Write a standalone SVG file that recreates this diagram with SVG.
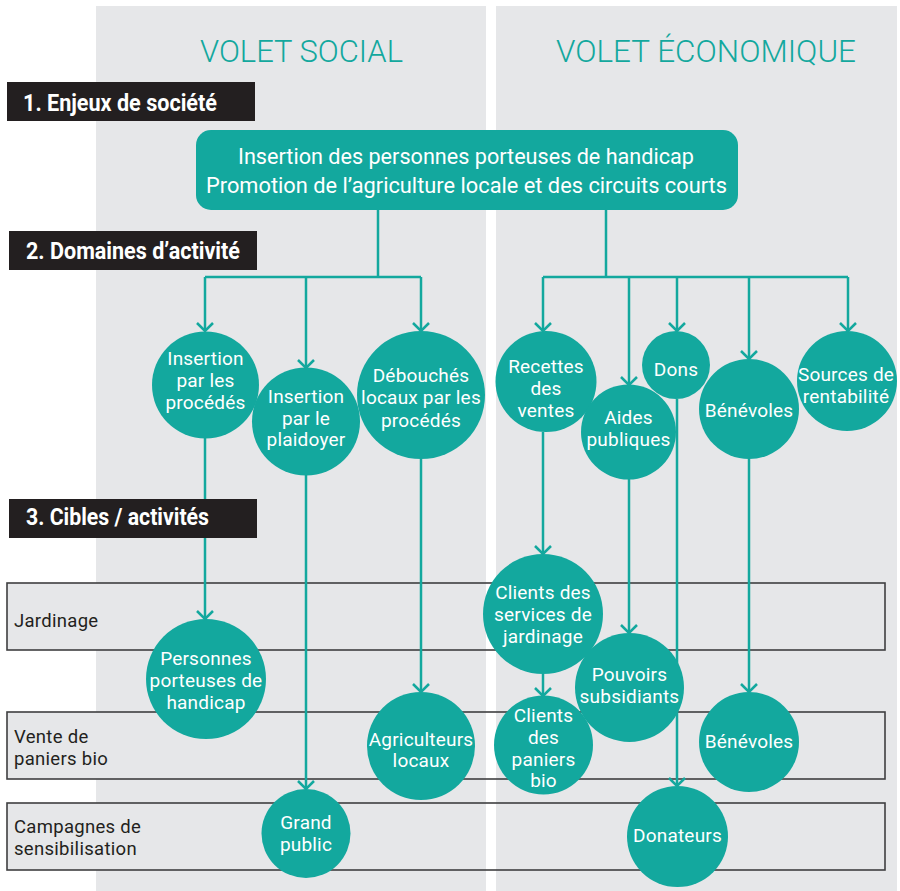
<svg xmlns="http://www.w3.org/2000/svg" width="900" height="891" viewBox="0 0 900 891">
<defs>
<style>
.panel{fill:#e6e7e9}
.band{fill:none;stroke:#3f3f40;stroke-width:1.6}
.bandfill{fill:#e6e7e9}
.blab{font-family:Roboto,"Liberation Sans",sans-serif;font-size:18.5px;fill:#231f20;letter-spacing:0.3px}
.hbox{fill:#231f20}
.htxt{font-family:Roboto,"Liberation Sans",sans-serif;font-weight:bold;font-size:23px;fill:#fff}
.title{font-family:Roboto,"Liberation Sans",sans-serif;font-weight:300;font-size:31px;fill:#13a89e}
.conn{fill:none;stroke:#13a89e;stroke-width:2.5}
.node{fill:#13a89e}
.ntxt{font-family:Roboto,"Liberation Sans",sans-serif;font-size:19px;fill:#fff;text-anchor:middle;letter-spacing:0.2px}
.mtxt{font-family:Roboto,"Liberation Sans",sans-serif;font-size:22px;fill:#fff;text-anchor:middle}
</style>
<marker id="arr" markerUnits="userSpaceOnUse" markerWidth="20" markerHeight="20" refX="0" refY="0" viewBox="-10 -10 20 20" orient="auto" overflow="visible">
<path d="M-8,-8 L0,0 L-8,8" fill="none" stroke="#13a89e" stroke-width="2.5"/>
</marker>
</defs>
<rect width="900" height="891" fill="#fff"/>
<rect class="panel" x="96" y="6" width="390" height="885"/>
<rect class="panel" x="496" y="6" width="401" height="885"/>

<g id="bands">
<rect class="bandfill" x="7" y="583" width="878" height="67"/>
<rect class="bandfill" x="7" y="712" width="878" height="67"/>
<rect class="bandfill" x="7" y="803" width="878" height="67"/>
<rect fill="#fff" x="486" y="583" width="10" height="287"/>
<rect class="band" x="7" y="583" width="878" height="67"/>
<rect class="band" x="7" y="712" width="878" height="67"/>
<rect class="band" x="7" y="803" width="878" height="67"/>
<text class="blab" x="14" y="627">Jardinage</text>
<text class="blab" x="14" y="743">Vente de</text>
<text class="blab" x="14" y="765">paniers bio</text>
<text class="blab" x="14" y="833">Campagnes de</text>
<text class="blab" x="14" y="855">sensibilisation</text>
</g>

<g id="titles">
<text class="title" x="200" y="62" textLength="203" lengthAdjust="spacingAndGlyphs">VOLET SOCIAL</text>
<text class="title" x="556" y="62" textLength="300" lengthAdjust="spacingAndGlyphs">VOLET ÉCONOMIQUE</text>
</g>

<g id="connectors">
<path class="conn" d="M378,210 V277 M205,277 H421"/>
<path class="conn" d="M606,210 V277 M543,277 H848"/>
<path class="conn" marker-end="url(#arr)" d="M205,277 V331"/>
<path class="conn" marker-end="url(#arr)" d="M306,277 V368"/>
<path class="conn" marker-end="url(#arr)" d="M421,277 V331"/>
<path class="conn" marker-end="url(#arr)" d="M543,277 V331"/>
<path class="conn" marker-end="url(#arr)" d="M629,277 V385"/>
<path class="conn" marker-end="url(#arr)" d="M677,277 V331"/>
<path class="conn" marker-end="url(#arr)" d="M749,277 V359"/>
<path class="conn" marker-end="url(#arr)" d="M848,277 V331"/>
<path class="conn" marker-end="url(#arr)" d="M205,438 V619"/>
<path class="conn" marker-end="url(#arr)" d="M306,475 V789"/>
<path class="conn" marker-end="url(#arr)" d="M421,459 V692"/>
<path class="conn" marker-end="url(#arr)" d="M543,432 V554"/>
<path class="conn" marker-end="url(#arr)" d="M543,674 V696"/>
<path class="conn" marker-end="url(#arr)" d="M629,479 V633"/>
<path class="conn" marker-end="url(#arr)" d="M677,399 V786"/>
<path class="conn" marker-end="url(#arr)" d="M749,459 V692"/>
</g>

<g id="headers">
<g id="h1"><rect class="hbox" x="7" y="82" width="248" height="39"/><text class="htxt" x="23" y="111" textLength="194" lengthAdjust="spacingAndGlyphs">1. Enjeux de société</text></g>
<g id="h2"><rect class="hbox" x="9" y="231" width="248" height="39"/><text class="htxt" x="26" y="259" textLength="214" lengthAdjust="spacingAndGlyphs">2. Domaines d’activité</text></g>
<g id="h3"><rect class="hbox" x="9" y="499" width="248" height="39"/><text class="htxt" x="26" y="525" textLength="183" lengthAdjust="spacingAndGlyphs">3. Cibles / activités</text></g>
</g>

<g id="main">
<rect class="node" x="196" y="130" width="542" height="80" rx="15"/>
<text class="mtxt" x="466" y="164" textLength="456" lengthAdjust="spacingAndGlyphs">Insertion des personnes porteuses de handicap</text>
<text class="mtxt" x="466.5" y="193" textLength="521" lengthAdjust="spacingAndGlyphs">Promotion de l’agriculture locale et des circuits courts</text>
</g>

<g id="n-insertion-procedes"><circle class="node" cx="205.5" cy="385" r="53.5"/>
<text class="ntxt" x="205.5" y="365">Insertion</text><text class="ntxt" x="205.5" y="387">par les</text><text class="ntxt" x="205.5" y="409">procédés</text></g>
<g id="n-plaidoyer"><circle class="node" cx="306" cy="421.5" r="54"/>
<text class="ntxt" x="306" y="403">Insertion</text><text class="ntxt" x="306" y="425">par le</text><text class="ntxt" x="306" y="446">plaidoyer</text></g>
<g id="n-debouches"><circle class="node" cx="421" cy="395" r="64"/>
<text class="ntxt" x="421" y="382">Débouchés</text><text class="ntxt" x="421" y="404">locaux par les</text><text class="ntxt" x="421" y="427">procédés</text></g>
<g id="n-recettes"><circle class="node" cx="546" cy="381.5" r="50.5"/>
<text class="ntxt" x="546" y="373">Recettes</text><text class="ntxt" x="546" y="395">des</text><text class="ntxt" x="546" y="417">ventes</text></g>
<g id="n-aides"><circle class="node" cx="628.5" cy="432" r="47.5"/>
<text class="ntxt" x="628.5" y="424">Aides</text><text class="ntxt" x="628.5" y="446">publiques</text></g>
<g id="n-dons"><circle class="node" cx="676" cy="365" r="34"/>
<text class="ntxt" x="676" y="376">Dons</text></g>
<g id="n-benevoles"><circle class="node" cx="749" cy="409" r="50"/>
<text class="ntxt" x="749" y="417">Bénévoles</text></g>
<g id="n-sources"><circle class="node" cx="847" cy="381" r="50"/>
<text class="ntxt" x="846" y="381">Sources de</text><text class="ntxt" x="846" y="403">rentabilité</text></g>

<g id="n-personnes"><circle class="node" cx="206" cy="679" r="60"/>
<text class="ntxt" x="206" y="665">Personnes</text><text class="ntxt" x="206" y="687">porteuses de</text><text class="ntxt" x="206" y="709">handicap</text></g>
<g id="n-agriculteurs"><circle class="node" cx="421" cy="746" r="54"/>
<text class="ntxt" x="421" y="746">Agriculteurs</text><text class="ntxt" x="421" y="767">locaux</text></g>
<g id="n-grand-public"><circle class="node" cx="306" cy="833.5" r="44.5"/>
<text class="ntxt" x="306" y="829">Grand</text><text class="ntxt" x="306" y="851">public</text></g>
<g id="n-clients-jardinage"><circle class="node" cx="543" cy="614" r="60"/>
<text class="ntxt" x="543" y="599">Clients des</text><text class="ntxt" x="543" y="621">services de</text><text class="ntxt" x="543" y="643">jardinage</text></g>
<g id="n-pouvoirs"><circle class="node" cx="629.5" cy="687.5" r="54.5"/>
<text class="ntxt" x="629.5" y="681">Pouvoirs</text><text class="ntxt" x="629.5" y="703">subsidiants</text></g>
<g id="n-clients-paniers"><circle class="node" cx="543.5" cy="745" r="49.5"/>
<text class="ntxt" x="543.5" y="722">Clients</text><text class="ntxt" x="543.5" y="744">des</text><text class="ntxt" x="543.5" y="766">paniers</text><text class="ntxt" x="543.5" y="787">bio</text></g>
<g id="n-benevoles2"><circle class="node" cx="749" cy="742" r="50"/>
<text class="ntxt" x="749" y="748">Bénévoles</text></g>
<g id="n-donateurs"><circle class="node" cx="677.5" cy="836.5" r="50.5"/>
<text class="ntxt" x="677.5" y="842">Donateurs</text></g>
</svg>
